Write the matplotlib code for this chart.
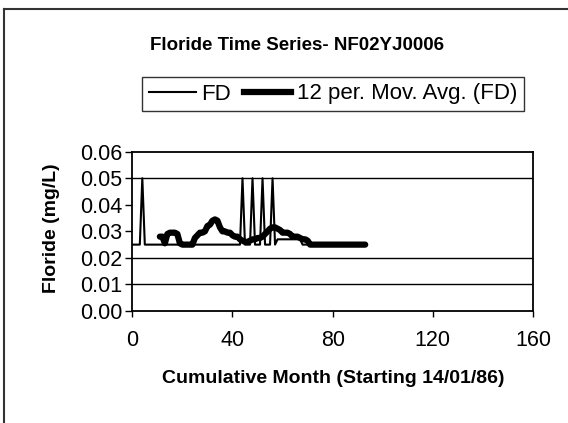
import matplotlib
matplotlib.use("Agg")
import matplotlib.pyplot as plt
from matplotlib.lines import Line2D

plt.rcParams['font.family'] = ['Liberation Sans', 'DejaVu Sans']

# ---- data ----
fd_months = list(range(0, 94))
fd_values = [0.025] * 94
for m in (4, 44, 48, 52, 56):
    fd_values[m] = 0.05
for m in range(58, 68):
    fd_values[m] = 0.027

ma_months = list(range(11, 94))
ma_values = [0.028, 0.028, 0.0255, 0.029, 0.0295, 0.0295, 0.0295, 0.029, 0.0255, 0.025,
             0.025, 0.025, 0.025, 0.025, 0.0275, 0.0285, 0.0295, 0.0295, 0.030, 0.032,
             0.0325, 0.034, 0.0345, 0.034, 0.0315, 0.030, 0.030, 0.0295, 0.0295, 0.0285,
             0.028, 0.028, 0.027, 0.0265, 0.026, 0.026, 0.0265, 0.027, 0.027, 0.0275,
             0.0275, 0.028, 0.029, 0.030, 0.031, 0.0315, 0.0315, 0.031, 0.0305, 0.0295,
             0.0295, 0.0295, 0.029, 0.028, 0.028, 0.028, 0.0275, 0.027, 0.027, 0.0265] + [0.025] * 23

x_ticks = [0, 40, 80, 120, 160]
y_ticks = [0.00, 0.01, 0.02, 0.03, 0.04, 0.05, 0.06]
grid_levels = [0.01, 0.02, 0.05]

title = "Floride Time Series- NF02YJ0006"
xlabel = "Cumulative Month (Starting 14/01/86)"
ylabel = "Floride (mg/L)"
legend_labels = ["FD", "12 per. Mov. Avg. (FD)"]

# ---- figure ----
W, H = 568, 423
fig = plt.figure(figsize=(W / 100, H / 100), dpi=100)
fig.patch.set_facecolor('white')

ax = fig.add_axes([132.3 / W, 1 - 311 / H, (533 - 132.3) / W, (311 - 151.7) / H])
ax.set_xlim(0, 160)
ax.set_ylim(0, 0.06)

for g in grid_levels:
    ax.axhline(g, color='black', lw=1.0, zorder=1)

ax.plot(fd_months, fd_values, color='black', lw=1.5, zorder=3)
ax.plot(ma_months, ma_values, color='black', lw=4.5, zorder=2,
        solid_joinstyle='round', solid_capstyle='round')

ax.set_xticks(x_ticks)
ax.set_xticklabels([str(t) for t in x_ticks])
ax.set_yticks(y_ticks)
ax.set_yticklabels([f"{t:.2f}" for t in y_ticks])
ax.tick_params(axis='x', direction='out', length=4, width=1, pad=10, labelsize=15.5)
ax.tick_params(axis='y', direction='out', length=5, width=1, pad=2, labelsize=15.5)

for s in ax.spines.values():
    s.set_linestyle((0, (1, 1)))
    s.set_color('black')
    s.set_linewidth(1.3)

fig.text(297 / W, 1 - 45 / H, title, ha='center', va='center',
         fontsize=13.5, fontweight='bold')
fig.text(333 / W, 1 - 378 / H, xlabel, ha='center', va='center',
         fontsize=14, fontweight='bold')
fig.text(51 / W, 1 - 228 / H, ylabel, ha='center', va='center',
         rotation=90, fontsize=14, fontweight='bold')

handles = [Line2D([], [], color='black', lw=1.5), Line2D([], [], color='black', lw=4.5)]
leg = fig.legend(handles, legend_labels, loc='center', bbox_to_anchor=(333 / W, 1 - 94 / H),
                 ncol=2, fontsize=16, frameon=True, fancybox=False, handlelength=2.1,
                 handletextpad=0.25, columnspacing=0.6, borderpad=0.3, borderaxespad=0)
leg.get_frame().set_edgecolor('black')
leg.get_frame().set_linewidth(1.0)

# outer frame (top and left edges visible in the scan)
fig.add_artist(Line2D([4 / W, 1], [1 - 9 / H, 1 - 9 / H], transform=fig.transFigure,
                      color='#333333', lw=1.5))
fig.add_artist(Line2D([4 / W, 4 / W], [0, 1 - 9 / H], transform=fig.transFigure,
                      color='#333333', lw=1.5))

fig.savefig('out.png', dpi=100)
